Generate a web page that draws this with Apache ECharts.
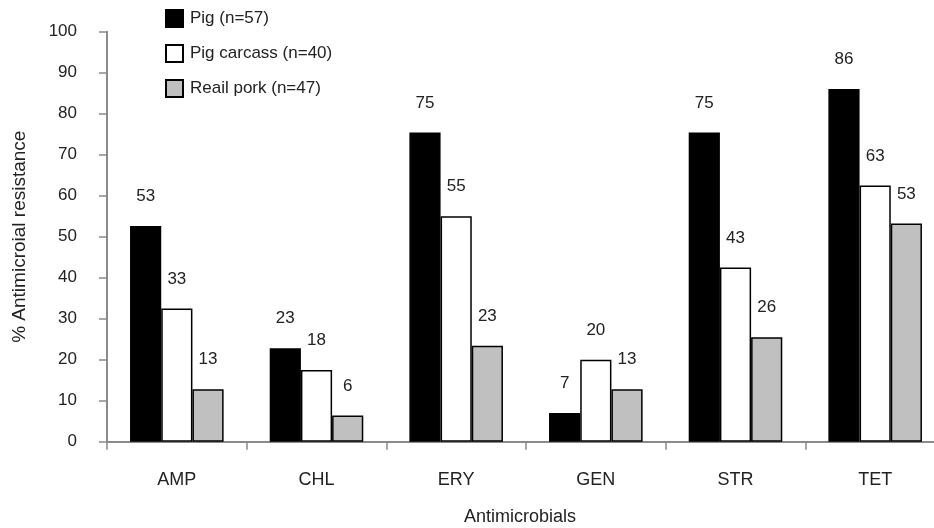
<!DOCTYPE html>
<html>
<head>
<meta charset="utf-8">
<script src="https://cdn.jsdelivr.net/npm/echarts@6/dist/echarts.min.js"></script>
<style>html,body{margin:0;padding:0;background:#fff;overflow:hidden;width:934px;height:528px;}#c{width:960px;height:528px;}</style>
</head>
<body>
<div id="c"></div>
<script>
var categories = ['AMP', 'CHL', 'ERY', 'GEN', 'STR', 'TET'];
var seriesNames = ['Pig (n=57)', 'Pig carcass (n=40)', 'Reail pork (n=47)'];
var pig = [52.6, 22.8, 75.4, 7.0, 75.4, 86.0];
var pigCarcass = [32.5, 17.5, 55.0, 20.0, 42.5, 62.5];
var retailPork = [12.8, 6.4, 23.4, 12.8, 25.5, 53.2];
var yTicks = {min: 0, max: 100, interval: 10};

var FONT = 'Liberation Sans';
var TXT = '#222';
var AX = '#8a8a8a';
var fills = ['#000000', '#ffffff', '#c0c0c0'];
var values = [pig, pigCarcass, retailPork];

var chart = echarts.init(document.getElementById('c'), null, {renderer: 'canvas'});
chart.setOption({
  animation: false,
  backgroundColor: '#ffffff',
  textStyle: {fontFamily: FONT},
  grid: {left: 107, top: 31.7, bottom: 86.3, right: 15, containLabel: false, outerBoundsMode: 'none'},
  legend: {
    orient: 'vertical', left: 165, top: 9, padding: 0,
    itemWidth: 17, itemHeight: 17, itemGap: 16,
    icon: 'rect',
    textStyle: {fontFamily: FONT, fontSize: 17, color: TXT, padding: [0, 0, 0, 2]},
    data: seriesNames
  },
  xAxis: {
    type: 'category',
    data: categories,
    axisLine: {lineStyle: {color: AX, width: 2}},
    axisTick: {show: true, length: 8, lineStyle: {color: AX, width: 1.5}},
    axisLabel: {margin: 29, fontFamily: FONT, fontSize: 18, color: TXT},
    name: 'Antimicrobials',
    nameLocation: 'middle',
    nameGap: 66,
    nameTextStyle: {fontFamily: FONT, fontSize: 18, color: TXT, padding: [0, 12, 0, 0]}
  },
  yAxis: {
    type: 'value',
    min: yTicks.min, max: yTicks.max, interval: yTicks.interval,
    splitLine: {show: false},
    axisLine: {show: true, lineStyle: {color: AX, width: 2}},
    axisTick: {show: true, length: 8, lineStyle: {color: AX, width: 1.5}},
    axisLabel: {margin: 30, fontFamily: FONT, fontSize: 17, color: TXT},
    name: '% Antimicroial resistance',
    nameLocation: 'middle',
    nameGap: 78,
    nameTextStyle: {fontFamily: FONT, fontSize: 19, color: TXT}
  },
  series: seriesNames.map(function (n, i) {
    return {
      name: n,
      type: 'bar',
      data: values[i],
      barGap: '0%',
      barCategoryGap: '33%',
      itemStyle: {color: fills[i], borderColor: '#000', borderWidth: 1.5},
      label: {
        show: true, position: 'top', distance: 21,
        fontFamily: FONT, fontSize: 17, color: TXT,
        formatter: function (p) { return Math.round(p.value); }
      }
    };
  })
});
</script>
</body>
</html>
